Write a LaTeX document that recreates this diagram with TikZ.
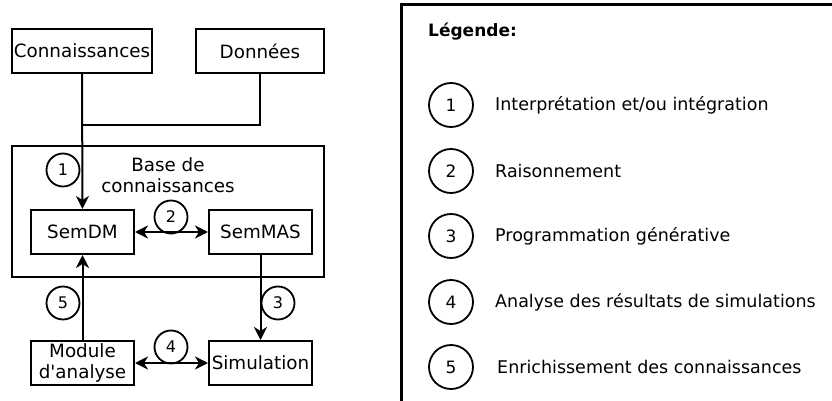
\documentclass[tikz,border=0pt]{standalone}
\usepackage{fontspec}
\setmainfont{DejaVu Sans}
\usetikzlibrary{arrows.meta}
\tikzset{
  box/.style={draw, line width=2pt, minimum height=44pt, inner sep=0pt, align=center,
              font=\fontsize{18.3}{20.5}\selectfont},
  num/.style={draw, circle, line width=1.8pt, minimum size=33pt, inner sep=0pt,
              font=\fontsize{16}{18}\selectfont},
  bignum/.style={draw, circle, line width=1.8pt, minimum size=44pt, inner sep=0pt,
              font=\fontsize{17}{19}\selectfont},
  tip/.tip={Stealth[length=13pt,width=13pt,inset=4pt]},
  flow/.style={line width=2pt, -tip},
  flow2/.style={line width=2pt, tip-tip},
  legtext/.style={anchor=west, inner sep=0pt, font=\fontsize{17.5}{20}\selectfont},
}
\begin{document}
\begin{tikzpicture}[x=1pt,y=-1pt]
\useasboundingbox (0,0) rectangle (832,401);

% knowledge base frame
\node[draw, line width=2pt, minimum width=312pt, minimum height=131pt, inner sep=0pt] (base) at (168,211.5) {};
\node[align=center, inner sep=0pt, font=\fontsize{18.3}{21}\selectfont] (basetxt) at (168,175) {Base de\\connaissances};

% sources
\node[box, minimum width=140pt] (conn) at (82,51) {Connaissances};
\node[box, minimum width=128pt] (donn) at (260,51) {Données};

% inner blocks
\node[box, minimum width=103pt] (semdm) at (82.5,232) {SemDM};
\node[box, minimum width=103pt] (semmas) at (260.5,232) {SemMAS};
\node[box, minimum width=103pt] (module) at (82.5,363) {Module\\d\textquotesingle analyse};
\node[box, minimum width=103pt] (simu) at (260.5,363) {Simulation};

% connectors
\coordinate (join) at (82,125);
\draw[flow] (conn.south) -- (semdm.north);
\draw[line width=2pt] (donn.south) |- (join);
\draw[flow2] (semdm.east) -- (semmas.west);
\draw[flow] (semmas.south) -- (simu.north);
\draw[flow2] (module.east) -- (simu.west);
\draw[flow] (module.north) -- (semdm.south);

% step markers
\node[num] (n1) at (63,170) {1};
\node[num] (n2) at (171,217) {2};
\node[num] (n3) at (278,303) {3};
\node[num] (n4) at (171,347) {4};
\node[num] (n5) at (63,303) {5};

% legend frame
\coordinate (lgbl) at (401,402);
\coordinate (lgtl) at (401,5);
\coordinate (lgtr) at (833,5);
\draw[line width=3pt] (lgbl) -- (lgtl) -- (lgtr);
\node[anchor=west, inner sep=0pt, font=\fontsize{17}{20}\bfseries] (lgtitle) at (428,32) {Légende:};

\node[bignum] (l1) at (451,105) {1};
\node[legtext] (t1) at (495,105) {Interprétation et/ou intégration};
\node[bignum] (l2) at (451,171) {2};
\node[legtext] (t2) at (495,171) {Raisonnement};
\node[bignum] (l3) at (451,236) {3};
\node[legtext] (t3) at (495,236) {Programmation générative};
\node[bignum] (l4) at (451,302) {4};
\node[legtext] (t4) at (495,302) {Analyse des résultats de simulations};
\node[bignum] (l5) at (451,367) {5};
\node[legtext] (t5) at (497,367) {Enrichissement des connaissances};
\end{tikzpicture}
\end{document}
